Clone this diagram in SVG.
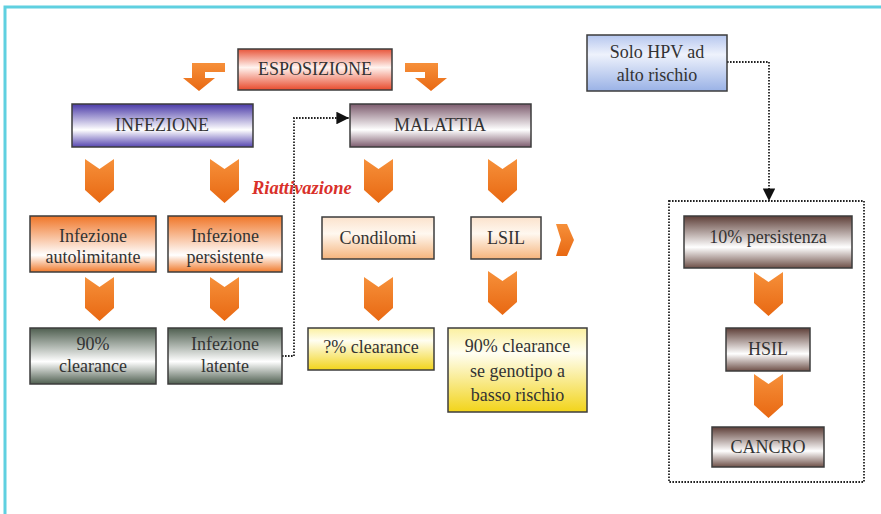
<svg xmlns="http://www.w3.org/2000/svg" width="881" height="514" viewBox="0 0 881 514" font-family="'Liberation Serif', 'Times New Roman', serif">
<defs>
<style>
.box{stroke:#3c3c3c;stroke-width:1.5}
.t{font-family:'Liberation Serif','Times New Roman',serif;font-size:18px;fill:#333;text-anchor:middle}
.dot{fill:none;stroke:#222;stroke-width:1.8;stroke-dasharray:1.6 1.4}
.chev{fill:url(#gOr)}
</style>
<linearGradient id="gRed" x1="0" y1="0" x2="0" y2="1"><stop offset="0" stop-color="#e8553a"/><stop offset="0.45" stop-color="#fff4f0"/><stop offset="1" stop-color="#e84a2c"/></linearGradient>
<linearGradient id="gPur" x1="0" y1="0" x2="0" y2="1"><stop offset="0" stop-color="#4a3aa8"/><stop offset="0.6" stop-color="#ffffff"/><stop offset="1" stop-color="#5646b0"/></linearGradient>
<linearGradient id="gMau" x1="0" y1="0" x2="0" y2="1"><stop offset="0" stop-color="#7d5c6e"/><stop offset="0.6" stop-color="#ffffff"/><stop offset="1" stop-color="#7d5c6e"/></linearGradient>
<linearGradient id="gOrB" x1="0" y1="0" x2="0" y2="1"><stop offset="0" stop-color="#f07628"/><stop offset="0.7" stop-color="#ffffff"/><stop offset="1" stop-color="#f07a2c"/></linearGradient>
<linearGradient id="gPea" x1="0" y1="0" x2="0" y2="1"><stop offset="0" stop-color="#fbe2cc"/><stop offset="0.4" stop-color="#fff8f0"/><stop offset="1" stop-color="#f5b47c"/></linearGradient>
<linearGradient id="gGrn" x1="0" y1="0" x2="0" y2="1"><stop offset="0" stop-color="#4f5f50"/><stop offset="0.6" stop-color="#ffffff"/><stop offset="1" stop-color="#4f5f50"/></linearGradient>
<linearGradient id="gYel" x1="0" y1="0" x2="0" y2="1"><stop offset="0" stop-color="#fbf0a0"/><stop offset="0.3" stop-color="#fffef2"/><stop offset="1" stop-color="#f2d41a"/></linearGradient>
<linearGradient id="gBlu" x1="0" y1="0" x2="0" y2="1"><stop offset="0" stop-color="#b5c6ee"/><stop offset="0.35" stop-color="#eef2fc"/><stop offset="1" stop-color="#9ab2e6"/></linearGradient>
<linearGradient id="gBrn" x1="0" y1="0" x2="0" y2="1"><stop offset="0" stop-color="#5e3f38"/><stop offset="0.6" stop-color="#ffffff"/><stop offset="1" stop-color="#6e5048"/></linearGradient>
<linearGradient id="gOr" x1="0" y1="0" x2="0" y2="1"><stop offset="0" stop-color="#f6903a"/><stop offset="1" stop-color="#e86812"/></linearGradient>
<path id="chev" d="M0,0 L14.5,10 L29,0 L29,31 L14.5,44 L0,31 Z"/>
<marker id="arr" viewBox="0 0 10 10" refX="10" refY="5" markerWidth="7" markerHeight="7" orient="auto" markerUnits="strokeWidth"><path d="M0,0 L10,5 L0,10 Z" fill="#111"/></marker>
</defs>
<rect width="881" height="514" fill="#fff"/>
<path d="M5,514 L5,7 L881,7" fill="none" stroke="#5fd0e0" stroke-width="3"/>

<g id="connectors">
<path class="dot" d="M282,356 L294,356 L294,118 L349,118" marker-end="url(#arr)"/>
<path class="dot" d="M727,62 L769,62 L769,201" marker-end="url(#arr)"/>
<path d="M225,63 L192,63 L192,78 L183,78 L199,91 L215,78 L205,78 L205,72 L225,72 Z" class="chev"/>
<path d="M405,63 L438,63 L438,78 L447,78 L431,91 L415,78 L425,78 L425,72 L405,72 Z" class="chev"/>
<use href="#chev" x="85" y="159" class="chev"/>
<use href="#chev" x="210" y="159" class="chev"/>
<use href="#chev" x="364" y="159" class="chev"/>
<use href="#chev" x="488" y="159" class="chev"/>
<use href="#chev" x="85" y="277" class="chev"/>
<use href="#chev" x="210" y="277" class="chev"/>
<use href="#chev" x="364" y="277" class="chev"/>
<use href="#chev" x="488" y="271" class="chev"/>
<use href="#chev" x="754" y="272" class="chev"/>
<use href="#chev" x="754" y="374" class="chev"/>
<path d="M556,224 L567,224 L574,240 L567,256 L556,256 L561,240 Z" class="chev"/>
</g>

<g id="esposizione"><rect class="box" x="238" y="49" width="154" height="41" fill="url(#gRed)"/><text class="t" x="315" y="75">ESPOSIZIONE</text></g>
<g id="infezione"><rect class="box" x="72" y="104" width="181" height="43" fill="url(#gPur)"/><text class="t" x="162" y="131">INFEZIONE</text></g>
<g id="malattia"><rect class="box" x="350" y="104" width="181" height="43" fill="url(#gMau)"/><text class="t" x="440" y="131">MALATTIA</text></g>
<g id="riattivazione"><text x="252" y="194" font-family="'Liberation Serif', 'Times New Roman', serif" font-size="18.5" font-weight="bold" font-style="italic" fill="#d9302a">Riattivazione</text></g>

<g id="autolimitante"><rect class="box" x="30" y="216" width="126" height="56" fill="url(#gOrB)"/><text class="t" x="93" y="242">Infezione</text><text class="t" x="93" y="263">autolimitante</text></g>
<g id="persistente"><rect class="box" x="168" y="216" width="114" height="56" fill="url(#gOrB)"/><text class="t" x="225" y="242">Infezione</text><text class="t" x="225" y="263">persistente</text></g>
<g id="condilomi"><rect class="box" x="322" y="217" width="112" height="42" fill="url(#gPea)"/><text class="t" x="378" y="244">Condilomi</text></g>
<g id="lsil"><rect class="box" x="471" y="217" width="70" height="42" fill="url(#gPea)"/><text class="t" x="506" y="244">LSIL</text></g>

<g id="clearance90"><rect class="box" x="30" y="328" width="126" height="56" fill="url(#gGrn)"/><text class="t" x="93" y="350">90%</text><text class="t" x="93" y="372">clearance</text></g>
<g id="latente"><rect class="box" x="168" y="328" width="114" height="56" fill="url(#gGrn)"/><text class="t" x="225" y="350">Infezione</text><text class="t" x="225" y="372">latente</text></g>
<g id="clearanceq"><rect class="box" x="308" y="328" width="126" height="42" fill="url(#gYel)"/><text class="t" x="371" y="353">?% clearance</text></g>
<g id="clearancegen"><rect class="box" x="448" y="328" width="139" height="84" fill="url(#gYel)"/><text class="t" x="517.5" y="352">90% clearance</text><text class="t" x="517.5" y="377">se genotipo a</text><text class="t" x="517.5" y="401">basso rischio</text></g>

<g id="solohpv"><rect class="box" x="587" y="35" width="140" height="56" fill="url(#gBlu)"/><text class="t" x="657" y="58">Solo HPV ad</text><text class="t" x="657" y="81">alto rischio</text></g>
<g id="gruppo"><rect class="dot" x="669" y="201" width="195" height="281"/></g>
<g id="persistenza"><rect class="box" x="684" y="216" width="168" height="52" fill="url(#gBrn)"/><text class="t" x="768" y="243">10% persistenza</text></g>
<g id="hsil"><rect class="box" x="726" y="328" width="84" height="43" fill="url(#gBrn)"/><text class="t" x="768" y="355">HSIL</text></g>
<g id="cancro"><rect class="box" x="712" y="427" width="112" height="40" fill="url(#gBrn)"/><text class="t" x="768" y="453">CANCRO</text></g>
</svg>
